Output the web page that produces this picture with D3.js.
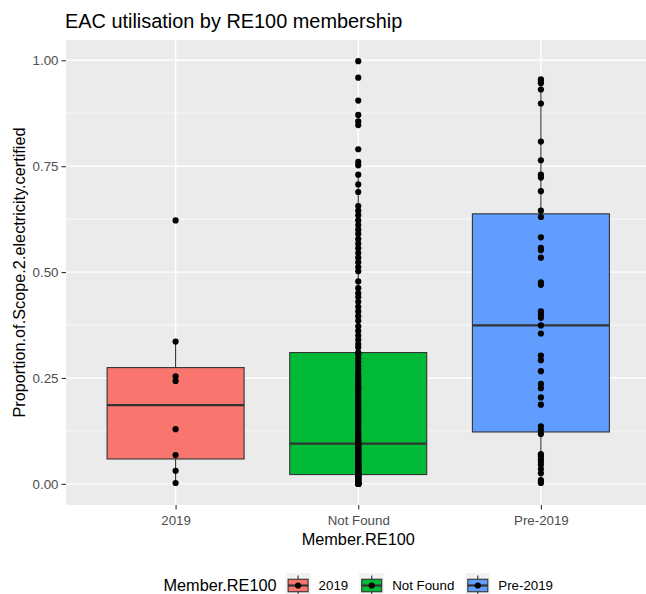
<!DOCTYPE html>
<html>
<head>
<meta charset="utf-8">
<script src="https://cdn.jsdelivr.net/npm/d3@7"></script>
<style>
  body { margin: 0; background: #ffffff; }
  svg { display: block; font-family: "Liberation Sans", Arial, sans-serif; }
</style>
</head>
<body>
<svg id="chart" width="646" height="594"></svg>
<script>
// ---- data ----------------------------------------------------------------
const categories = ["2019", "Not Found", "Pre-2019"];
const fillColors = ["#F8766D", "#00BA38", "#619CFF"];
const yTicks = [0, 0.25, 0.5, 0.75, 1];
const yTickLabels = ["0.00", "0.25", "0.50", "0.75", "1.00"];

const values2019 = [0.002, 0.031, 0.068, 0.129, 0.243, 0.254, 0.336, 0.622];

const valuesNotFound = [
  0, 0, 0, 0, 0, 0, 0, 0, 0, 0, 0, 0, 0, 0, 0, 0, 0, 0, 0, 0, 0, 0,
  0.001, 0.002, 0.002, 0.003, 0.004, 0.005, 0.006, 0.008, 0.009, 0.010,
  0.011, 0.012, 0.014, 0.015, 0.016, 0.017, 0.018, 0.019, 0.020, 0.021,
  0.022,
  0.023, 0.024, 0.025, 0.026, 0.027, 0.028, 0.029, 0.030, 0.032, 0.033,
  0.035, 0.036, 0.038, 0.039, 0.041, 0.043, 0.044, 0.046, 0.048, 0.050,
  0.052, 0.054, 0.056, 0.058, 0.060, 0.062, 0.064, 0.066, 0.068, 0.070,
  0.072, 0.074, 0.076, 0.078, 0.081, 0.083, 0.085, 0.087, 0.089, 0.091, 0.093,
  0.095,
  0.098, 0.100, 0.103, 0.106, 0.110, 0.114, 0.118, 0.122, 0.127, 0.132,
  0.137, 0.142, 0.147, 0.152, 0.157, 0.162, 0.167, 0.172, 0.177, 0.182,
  0.187, 0.192, 0.197, 0.202, 0.208, 0.213, 0.218, 0.224, 0.226, 0.229,
  0.234, 0.240, 0.245, 0.250, 0.256, 0.262, 0.271, 0.280, 0.288, 0.296, 0.305,
  0.310,
  0.322, 0.330, 0.340, 0.350, 0.361, 0.372, 0.385, 0.396, 0.407, 0.418,
  0.430, 0.441, 0.450, 0.462, 0.478, 0.502, 0.512, 0.523, 0.534, 0.545,
  0.556, 0.567, 0.578, 0.590, 0.600, 0.611, 0.622, 0.634, 0.645, 0.656,
  0.689, 0.707, 0.730, 0.752, 0.760, 0.790, 0.847, 0.856, 0.871, 0.905,
  0.959, 0.998
];

const valuesPre2019 = [
  0.002, 0.005, 0.009, 0.025, 0.035, 0.045, 0.052, 0.058, 0.065, 0.070,
  0.118, 0.127, 0.136, 0.187, 0.204, 0.226, 0.236, 0.266, 0.292, 0.303,
  0.355, 0.374, 0.392, 0.400, 0.407, 0.470, 0.476, 0.534, 0.552, 0.557,
  0.582, 0.630, 0.645, 0.691, 0.723, 0.730, 0.764, 0.808, 0.898, 0.931,
  0.946, 0.951, 0.955
];

const groups = [values2019, valuesNotFound, valuesPre2019];

// ---- layout --------------------------------------------------------------
const svg = d3.select("#chart");
const panel = { left: 66, right: 650.5, top: 40, bottom: 505 };
const tickColor = "#333333";
const tickTextColor = "#4D4D4D";

const x = d3.scalePoint()
  .domain(categories)
  .range([panel.left, panel.right])
  .padding(0.6);

const allValues = groups.flat();
const [vMin, vMax] = d3.extent(allValues);
const pad = (vMax - vMin) * 0.05;
const y = d3.scaleLinear()
  .domain([vMin - pad, vMax + pad])
  .range([panel.bottom, panel.top]);

// ---- panel background and grid -------------------------------------------
svg.append("rect")
  .attr("x", panel.left).attr("y", panel.top)
  .attr("width", panel.right - panel.left)
  .attr("height", panel.bottom - panel.top)
  .attr("fill", "#EBEBEB");

const minorTicks = d3.pairs(yTicks).map(([a, b]) => (a + b) / 2);
svg.append("g").selectAll("line").data(minorTicks).join("line")
  .attr("x1", panel.left).attr("x2", panel.right)
  .attr("y1", d => y(d)).attr("y2", d => y(d))
  .attr("stroke", "#ffffff").attr("stroke-width", 0.7);

svg.append("g").selectAll("line").data(yTicks).join("line")
  .attr("x1", panel.left).attr("x2", panel.right)
  .attr("y1", d => y(d)).attr("y2", d => y(d))
  .attr("stroke", "#ffffff").attr("stroke-width", 1.4);

svg.append("g").selectAll("line").data(categories).join("line")
  .attr("x1", d => x(d)).attr("x2", d => x(d))
  .attr("y1", panel.top).attr("y2", panel.bottom)
  .attr("stroke", "#ffffff").attr("stroke-width", 1.4);

// ---- boxplot statistics ----------------------------------------------------
function boxStats(values) {
  const s = values.slice().sort(d3.ascending);
  const q1 = d3.quantileSorted(s, 0.25);
  const med = d3.quantileSorted(s, 0.5);
  const q3 = d3.quantileSorted(s, 0.75);
  const iqr = q3 - q1;
  const lo = d3.min(s.filter(v => v >= q1 - 1.5 * iqr));
  const hi = d3.max(s.filter(v => v <= q3 + 1.5 * iqr));
  return { q1, med, q3, lo, hi };
}

const boxW = x.step() * 0.75;
const stats = groups.map((g, i) => ({ cat: categories[i], fill: fillColors[i], ...boxStats(g) }));

const boxes = svg.append("g");
stats.forEach(st => {
  const cx = x(st.cat);
  // whiskers
  boxes.append("line")
    .attr("x1", cx).attr("x2", cx)
    .attr("y1", y(st.q3)).attr("y2", y(st.hi))
    .attr("stroke", tickColor).attr("stroke-width", 1.1);
  boxes.append("line")
    .attr("x1", cx).attr("x2", cx)
    .attr("y1", y(st.q1)).attr("y2", y(st.lo))
    .attr("stroke", tickColor).attr("stroke-width", 1.1);
  // box
  boxes.append("rect")
    .attr("x", cx - boxW / 2).attr("width", boxW)
    .attr("y", y(st.q3)).attr("height", y(st.q1) - y(st.q3))
    .attr("fill", st.fill)
    .attr("stroke", tickColor).attr("stroke-width", 1.1);
  // median
  boxes.append("line")
    .attr("x1", cx - boxW / 2).attr("x2", cx + boxW / 2)
    .attr("y1", y(st.med)).attr("y2", y(st.med))
    .attr("stroke", tickColor).attr("stroke-width", 2.2);
});

// ---- points -----------------------------------------------------------------
const pts = groups.flatMap((g, i) => g.map(v => ({ cat: categories[i], v })));
svg.append("g").selectAll("circle").data(pts).join("circle")
  .attr("cx", d => x(d.cat))
  .attr("cy", d => y(d.v))
  .attr("r", 3.1)
  .attr("fill", "#000000");

// ---- axes ---------------------------------------------------------------------
const yAxis = svg.append("g")
  .attr("transform", `translate(${panel.left},0)`)
  .call(d3.axisLeft(y).tickValues(yTicks).tickFormat((d, i) => yTickLabels[i])
    .tickSize(4.5).tickPadding(3));
yAxis.select(".domain").remove();
yAxis.selectAll(".tick line").attr("stroke", tickColor).attr("stroke-width", 1.1);
yAxis.selectAll(".tick text")
  .attr("fill", tickTextColor)
  .style("font-family", "'Liberation Sans', Arial, sans-serif")
  .style("font-size", "13.3px");

const xAxis = svg.append("g")
  .attr("transform", `translate(0,${panel.bottom})`)
  .call(d3.axisBottom(x).tickSize(4.5).tickPadding(4));
xAxis.select(".domain").remove();
xAxis.selectAll(".tick line").attr("stroke", tickColor).attr("stroke-width", 1.1);
xAxis.selectAll(".tick text")
  .attr("fill", tickTextColor)
  .attr("dy", null).attr("y", 19.5)
  .style("font-family", "'Liberation Sans', Arial, sans-serif")
  .style("font-size", "13.3px");

// ---- titles -------------------------------------------------------------------
svg.append("text")
  .attr("x", 65).attr("y", 28)
  .attr("fill", "#000000")
  .style("font-size", "19.9px")
  .text("EAC utilisation by RE100 membership");

svg.append("text")
  .attr("x", (panel.left + panel.right) / 2).attr("y", 545)
  .attr("text-anchor", "middle")
  .attr("fill", "#000000")
  .style("font-size", "16.3px")
  .text("Member.RE100");

svg.append("text")
  .attr("transform", `translate(24.5,${(panel.top + panel.bottom) / 2}) rotate(-90)`)
  .attr("text-anchor", "middle")
  .attr("fill", "#000000")
  .style("font-size", "16.3px")
  .text("Proportion.of.Scope.2.electricity.certified");

// ---- legend -------------------------------------------------------------------
const legend = svg.append("g");
const keySize = 25;
const keyTop = 573;
const keyMid = keyTop + keySize / 2;

const legTitle = legend.append("text")
  .attr("y", keyMid + 5.6)
  .attr("fill", "#000000")
  .style("font-size", "16.3px")
  .text("Member.RE100");

const items = categories.map((c, i) => {
  const g = legend.append("g");
  g.append("rect")
    .attr("width", keySize).attr("height", keySize)
    .attr("y", keyTop)
    .attr("fill", "#F2F2F2");
  g.append("line")
    .attr("x1", keySize / 2).attr("x2", keySize / 2)
    .attr("y1", keyTop + keySize * 0.1).attr("y2", keyTop + keySize * 0.9)
    .attr("stroke", tickColor).attr("stroke-width", 1.1);
  g.append("rect")
    .attr("x", keySize * 0.1).attr("width", keySize * 0.8)
    .attr("y", keyTop + keySize * 0.25).attr("height", keySize * 0.5)
    .attr("fill", fillColors[i])
    .attr("stroke", tickColor).attr("stroke-width", 1.1);
  g.append("line")
    .attr("x1", keySize * 0.1).attr("x2", keySize * 0.9)
    .attr("y1", keyMid).attr("y2", keyMid)
    .attr("stroke", tickColor).attr("stroke-width", 2.2);
  g.append("circle")
    .attr("cx", keySize / 2).attr("cy", keyMid).attr("r", 3.1)
    .attr("fill", "#000000");
  const t = g.append("text")
    .attr("x", keySize + 8).attr("y", keyMid + 4.6)
    .attr("fill", "#000000")
    .style("font-size", "13.3px")
    .text(c);
  return { g, width: keySize + 8 + t.node().getComputedTextLength() };
});

const titleW = legTitle.node().getComputedTextLength();
const totalW = titleW + 9 + d3.sum(items, d => d.width) + 11 * (items.length - 1);
let cursor = (panel.left + panel.right) / 2 - totalW / 2;
legTitle.attr("x", cursor);
cursor += titleW + 9;
items.forEach(it => {
  it.g.attr("transform", `translate(${cursor},0)`);
  cursor += it.width + 11;
});
</script>
</body>
</html>
